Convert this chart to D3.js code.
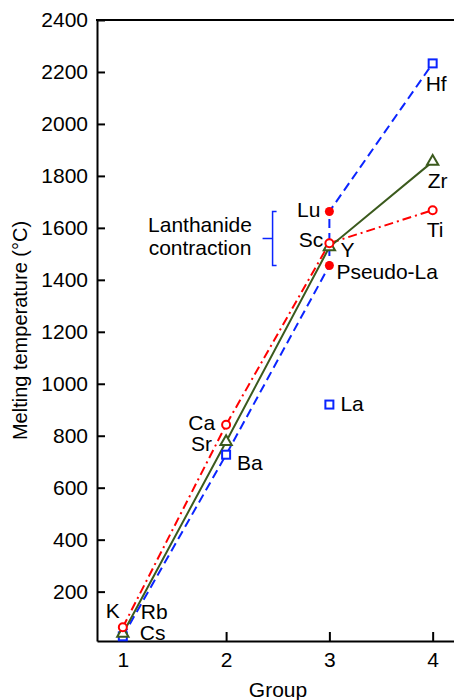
<!DOCTYPE html>
<html>
<head>
<meta charset="utf-8">
<script src="https://cdn.jsdelivr.net/npm/d3@7"></script>
<style>
  body { margin: 0; background: #fff; }
  text { font-family: "Liberation Sans", Arial, sans-serif; }
</style>
</head>
<body>
<div id="chart"></div>
<script>
// data
var groups = [1, 2, 3, 4];
var yTicks = [200, 400, 600, 800, 1000, 1200, 1400, 1600, 1800, 2000, 2200, 2400];

var redNames = ["K", "Ca", "Sc", "Ti"];
var redValues = [63, 842, 1541, 1668];

var greenNames = ["Rb", "Sr", "Y", "Zr"];
var greenValues = [39, 777, 1526, 1855];

// blue line goes Cs -> Ba -> Pseudo-La -> Lu -> Hf
var blueLineGroups = [1, 2, 3, 3, 4];
var blueLineValues = [28, 727, 1455, 1663, 2233];

var blueNames = ["Cs", "Ba", "La", "Hf"];
var blueGroups = [1, 2, 3, 4];
var blueValues = [28, 727, 920, 2233];

var dotNames = ["Lu", "Pseudo-La"];
var dotGroups = [3, 3];
var dotValues = [1663, 1455];

// label placement, pixels relative to the point: [anchor, dx, dy]
var labelPos = {
  "K": ["end", -3, -9], "Ca": ["end", -11, 5], "Sc": ["end", -6, 4], "Ti": ["start", -6, 27],
  "Rb": ["start", 18, -14], "Sr": ["end", -14, 9], "Y": ["start", 11, 10], "Zr": ["start", -5, 26],
  "Cs": ["start", 17, 4], "Ba": ["start", 11, 15], "La": ["start", 11, 6], "Hf": ["start", -7, 28],
  "Lu": ["end", -9, 6], "Pseudo-La": ["start", 7, 13]
};

var width = 454, height = 700;
var margin = {left: 97, top: 20, right: -5, bottom: 59};
var fs = 21;

var svg = d3.select("#chart").append("svg")
  .attr("width", width)
  .attr("height", height);

var x = d3.scaleLinear().domain([0.75, 4.255]).range([margin.left, width - margin.right]);
var y = d3.scaleLinear().domain([10, 2400]).range([height - margin.bottom, margin.top]);

var red = "#ff0000", green = "#3b5a1d", blue = "#0a24ff";

// axes
var yAxis = svg.append("g")
  .attr("transform", "translate(" + margin.left + ",0)")
  .call(d3.axisLeft(y).tickValues(yTicks).tickFormat(d3.format("d")).tickSizeInner(-8).tickSizeOuter(0).tickPadding(9));
var xAxis = svg.append("g")
  .attr("transform", "translate(0," + (height - margin.bottom) + ")")
  .call(d3.axisBottom(x).tickValues(groups).tickFormat(d3.format("d")).tickSizeInner(-9).tickSizeOuter(0).tickPadding(11));

[yAxis, xAxis].forEach(function(a) {
  a.selectAll("path, line").attr("stroke", "#000").attr("stroke-width", 2);
  a.selectAll("text").attr("font-size", fs).attr("fill", "#000")
    .style("font-family", "'Liberation Sans', Arial, sans-serif");
});

// top frame line
svg.append("line")
  .attr("x1", margin.left - 1).attr("x2", width)
  .attr("y1", y(2400)).attr("y2", y(2400))
  .attr("stroke", "#000").attr("stroke-width", 2);

svg.append("text")
  .attr("transform", "translate(20," + ((y(2400) + y(10)) / 2) + ") rotate(-90)")
  .attr("text-anchor", "middle")
  .attr("dy", "0.35em")
  .attr("font-size", 20)
  .text("Melting temperature (°C)");

svg.append("text")
  .attr("x", 278).attr("y", 697)
  .attr("text-anchor", "middle")
  .attr("font-size", fs)
  .text("Group");

var line = d3.line()
  .x(function(d) { return x(d[0]); })
  .y(function(d) { return y(d[1]); });

svg.append("path")
  .datum(d3.zip(blueLineGroups, blueLineValues))
  .attr("d", line).attr("fill", "none")
  .attr("stroke", blue).attr("stroke-width", 2).attr("stroke-dasharray", "9,5");

svg.append("path")
  .datum(d3.zip(groups, redValues))
  .attr("d", line).attr("fill", "none")
  .attr("stroke", red).attr("stroke-width", 2).attr("stroke-dasharray", "9,4,2,4");

svg.append("path")
  .datum(d3.zip(groups, greenValues))
  .attr("d", line).attr("fill", "none")
  .attr("stroke", green).attr("stroke-width", 2);

// markers
svg.selectAll(".sq").data(d3.zip(blueGroups, blueValues)).enter().append("rect")
  .attr("x", function(d) { return x(d[0]) - 4; })
  .attr("y", function(d) { return y(d[1]) - 4; })
  .attr("width", 8).attr("height", 8)
  .attr("fill", "#fff").attr("stroke", blue).attr("stroke-width", 2);

svg.selectAll(".tri").data(d3.zip(groups, greenValues)).enter().append("path")
  .attr("d", d3.symbol().type(d3.symbolTriangle).size(55))
  .attr("transform", function(d) { return "translate(" + x(d[0]) + "," + y(d[1]) + ")"; })
  .attr("fill", "#fff").attr("stroke", green).attr("stroke-width", 2);

svg.selectAll(".circ").data(d3.zip(groups, redValues)).enter().append("circle")
  .attr("cx", function(d) { return x(d[0]); })
  .attr("cy", function(d) { return y(d[1]); })
  .attr("r", 4)
  .attr("fill", "#fff").attr("stroke", red).attr("stroke-width", 2);

svg.selectAll(".dot").data(d3.zip(dotGroups, dotValues)).enter().append("circle")
  .attr("cx", function(d) { return x(d[0]); })
  .attr("cy", function(d) { return y(d[1]); })
  .attr("r", 4.5)
  .attr("fill", red);

// point labels
var labels = []
  .concat(d3.zip(redNames, groups, redValues))
  .concat(d3.zip(greenNames, groups, greenValues))
  .concat(d3.zip(blueNames, blueGroups, blueValues))
  .concat(d3.zip(dotNames, dotGroups, dotValues));

svg.selectAll(".lbl").data(labels).enter().append("text")
  .attr("x", function(d) { return x(d[1]) + labelPos[d[0]][1]; })
  .attr("y", function(d) { return y(d[2]) + labelPos[d[0]][2]; })
  .attr("text-anchor", function(d) { return labelPos[d[0]][0]; })
  .attr("font-size", fs)
  .text(function(d) { return d[0]; });

// lanthanide contraction bracket (Pseudo-La to Lu)
var bx = x(2.45);
var bTop = y(dotValues[0]), bBot = y(dotValues[1]);
svg.append("path")
  .attr("d", "M" + (bx + 4) + "," + bTop + "H" + bx + "V" + bBot + "H" + (bx + 4) +
             "M" + bx + "," + ((bTop + bBot) / 2) + "H" + (bx - 10))
  .attr("fill", "none").attr("stroke", blue).attr("stroke-width", 1.5);

svg.append("text")
  .attr("x", 200).attr("y", 232)
  .attr("text-anchor", "middle").attr("font-size", fs)
  .text("Lanthanide");
svg.append("text")
  .attr("x", 200).attr("y", 255)
  .attr("text-anchor", "middle").attr("font-size", fs)
  .text("contraction");
</script>
</body>
</html>
